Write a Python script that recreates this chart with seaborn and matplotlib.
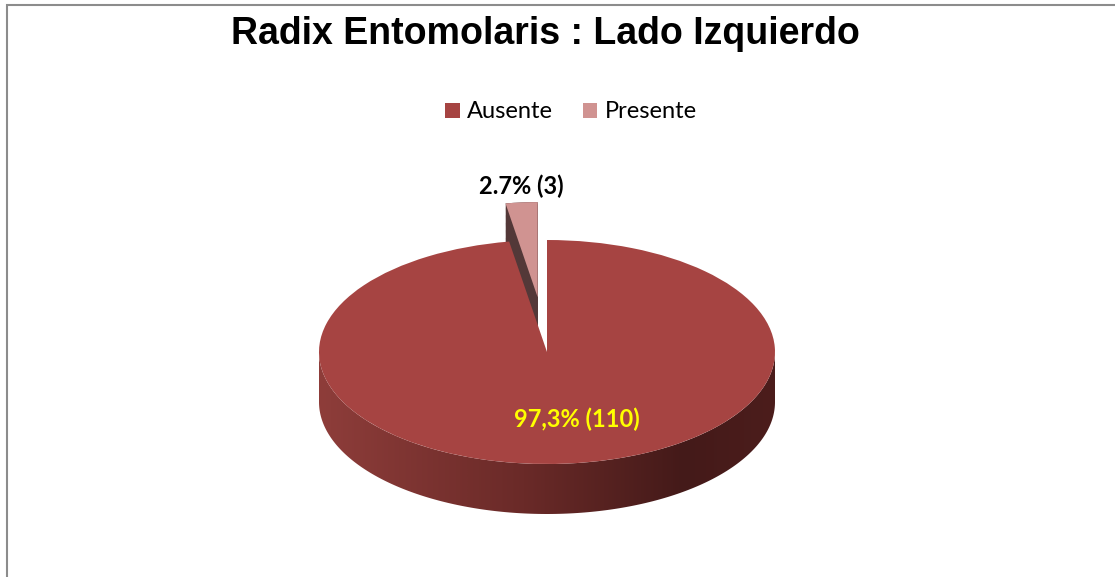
import numpy as np
import matplotlib
matplotlib.use("Agg")
import matplotlib.pyplot as plt
import seaborn as sns
from matplotlib.patches import Wedge, PathPatch, Patch, Rectangle
from matplotlib.path import Path
from matplotlib.colors import LinearSegmentedColormap

# ---- data ----
categories = ["Ausente", "Presente"]
counts = [110, 3]
percent_labels = ["97,3% (110)", "2.7% (3)"]
title = "Radix Entomolaris : Lado Izquierdo"

# ---- style ----
sns.set_theme(style="white")
plt.rcParams["font.family"] = ["Lato", "DejaVu Sans"]

top_colors = ["#A64442", "#D09391"]
side_presente = "#533838"
W, H = 1115, 577
cx, cy, a, b, depth = 547, 352, 228, 112, 50  # pixel geometry of the 3D pie

fig = plt.figure(figsize=(W / 100, H / 100), dpi=100)
ax = fig.add_axes([0, 0, 1, 1])

wedges, _ = ax.pie(counts, colors=top_colors, startangle=90, counterclock=False,
                   explode=[0, 0.49], radius=1,
                   wedgeprops=dict(linewidth=0))
aus, pres = wedges
pres.set_radius(0.85)  # farther slice appears smaller in perspective
aus.set_zorder(4)
pres.set_zorder(2)

d_units = depth / b
# thickness of the exploded "Presente" slice
for d in np.linspace(0, d_units * 0.9, 40):
    w = Wedge((pres.center[0], pres.center[1] - d), pres.r, pres.theta1, pres.theta2,
              facecolor=side_presente, linewidth=0, zorder=1)
    ax.add_patch(w)

# front side band of the "Ausente" slice with horizontal shading
th = np.linspace(np.pi, 2 * np.pi, 200)
xs_top, ys_top = np.cos(th), np.sin(th)
verts = np.concatenate([np.column_stack([xs_top, ys_top]),
                        np.column_stack([xs_top[::-1], ys_top[::-1] - d_units]),
                        [[xs_top[0], ys_top[0]]]])
codes = [Path.MOVETO] + [Path.LINETO] * (len(verts) - 2) + [Path.CLOSEPOLY]
band = PathPatch(Path(verts, codes), facecolor="none", edgecolor="none", zorder=3)
ax.add_patch(band)
cmap = LinearSegmentedColormap.from_list(
    "side", [(0, "#8E3D3A"), (0.45, "#6A2A28"), (0.8, "#441A19"), (1.0, "#4C1D1C")])
grad = np.linspace(0, 1, 256).reshape(1, -1)
im = ax.imshow(grad, cmap=cmap, aspect="auto", extent=(-1, 1, -1 - d_units, 0.05),
               zorder=3, interpolation="bicubic")
im.set_clip_path(band)

ax.set_aspect("auto")
ax.set_xlim(-cx / a, (W - cx) / a)
ax.set_ylim(-(H - cy) / b, cy / b)
ax.axis("off")

# labels
ax.text((521 - cx) / a, (cy - 186) / b, percent_labels[1], ha="center", va="center",
        fontsize=17, fontweight="bold", color="black", zorder=6)
ax.text((577 - cx) / a, (cy - 419) / b, percent_labels[0], ha="center", va="center",
        fontsize=17, fontweight="bold", color="#FFFF00", zorder=6)

# title
fig.text(545 / W, 1 - 34 / H, title, ha="center", va="center", fontsize=27,
         fontweight="bold", color="black", family=["Liberation Sans", "DejaVu Sans"])

# legend
handles = [Patch(facecolor=c, edgecolor="none") for c in top_colors]
fig.legend(handles, categories, loc="center", bbox_to_anchor=(571 / W, 1 - 112 / H),
           ncol=2, frameon=False, fontsize=17, handlelength=0.6, handleheight=0.6,
           handletextpad=0.3, columnspacing=1.3, labelcolor="black")

# chart border
fig.add_artist(Rectangle((7 / W, -0.1), 1.2, (1 - 5 / H) + 0.1, transform=fig.transFigure,
                         facecolor="none", edgecolor="#8C8C8C", linewidth=1.5))

fig.savefig("out.png", dpi=100)
